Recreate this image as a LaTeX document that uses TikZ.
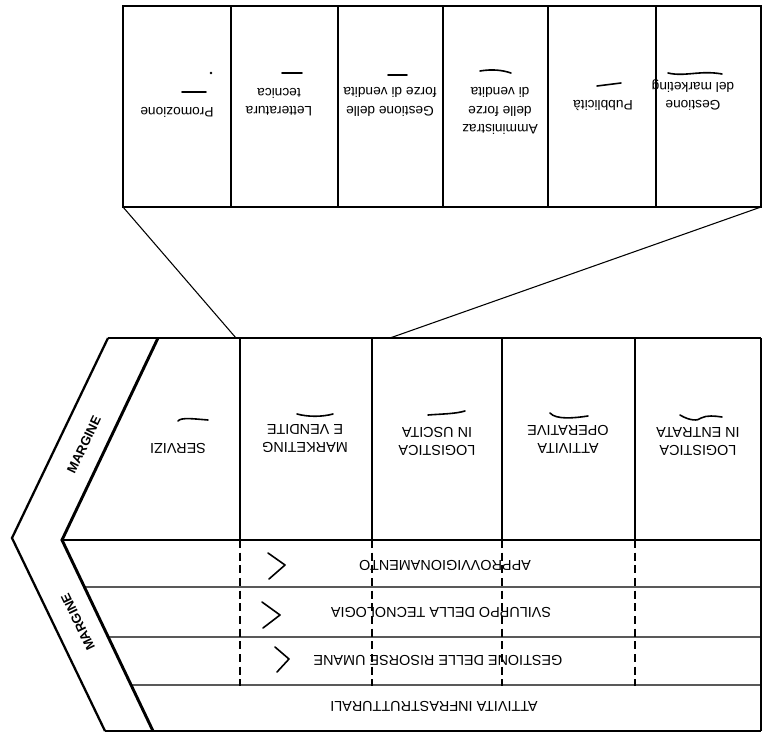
\documentclass[tikz,border=0pt]{standalone}
\usepackage{fontspec}
\setmainfont{Liberation Sans}
\usetikzlibrary{calc}

\begin{document}
\begin{tikzpicture}[x=0.75pt,y=0.75pt,yscale=-1,xscale=1,
  heavyline/.style={line width=2.2pt},
  chevline/.style={line width=1.7pt,line join=miter},
  colline/.style={line width=0.8pt},
  rowline/.style={line width=1pt},
  boxline/.style={line width=1.1pt},
  linkline/.style={line width=0.8pt},
  cutline/.style={line width=0.8pt,dash pattern=on 6pt off 3.5pt},
  pen/.style={line width=1.2pt,line cap=round,line join=round},
  actlabel/.style={font=\fontsize{10.8}{13.5}\selectfont,rotate=180,align=center,inner sep=0pt},
  sublabel/.style={font=\fontsize{10.3}{14}\selectfont,rotate=180,align=center,inner sep=0pt},
  marglabel/.style={font=\bfseries\fontsize{9.8}{12}\selectfont,inner sep=0pt}]
\useasboundingbox (0,0) rectangle (763,735);

%Corners of the value chain
\coordinate (otop) at (108,338);
\coordinate (itop) at (158,338);
\coordinate (otip) at (12,538);
\coordinate (itip) at (62,540);
\coordinate (obot) at (105,731);
\coordinate (ibot) at (153,731);
\coordinate (tr) at (761,338);
\coordinate (mr) at (761,540);
\coordinate (br) at (761,731);

%Chevron (margine)
\draw [chevline] (otop) -- (otip) -- (obot) ;
\draw [heavyline] (itop) -- (itip) -- (ibot) ;
%Outer edges
\draw [heavyline] (otop) -- (tr) ;
\draw [heavyline] (obot) -- (br) ;
\draw [heavyline] (itip) -- (mr) ;
\draw [colline] (tr) -- (br) ;

%Rows of the support activities
\foreach \y/\t in {587/0.246,637/0.508,685/0.759}
  \draw [rowline] ($(itip)!\t!(ibot)$) -- (761,\y) ;

%Columns of the primary activities
\foreach \x in {240,372,502,635}{
  \draw [colline] (\x,338) -- (\x,540) ;
  \draw [cutline] (\x,540) -- (\x,686) ;
}

%Detail box (marketing e vendite)
\coordinate (zl) at (123,207);
\coordinate (zr) at (761,207);
\draw [boxline] (123,6) rectangle (zr) ;
\foreach \x in {231,338,443,548,656}
  \draw [colline] (\x,6) -- (\x,207) ;
\coordinate (ml) at (236,338);
\coordinate (mk) at (390,338);
\draw [linkline] (zl) -- (ml) ;
\draw [linkline] (zr) -- (mk) ;

% Text Node
\node [sublabel] (promo) at (177,112) {Promozione};
\node [sublabel] (lett) at (279,102) {Letteratura\\tecnica};
\node [sublabel] (forze) at (390,102) {Gestione delle\\forze di vendita};
\node [sublabel] (ammin) at (500,111) {Amministraz\\delle forze\\di vendita};
\node [sublabel] (pubbl) at (603,105) {Pubblicità};
\node [sublabel] (gmkt) at (693,95) {Gestione\\del marketing};

% Text Node
\node [actlabel] (serv) at (178,448) {SERVIZI};
\node [actlabel] (mkt) at (305,439) {MARKETING\\E VENDITE};
\node [actlabel] (logu) at (437,441) {LOGISTICA\\IN USCITA};
\node [actlabel] (oper) at (568,439) {ATTIVITA\\OPERATIVE};
\node [actlabel] (loge) at (698,442) {LOGISTICA\\IN ENTRATA};

% Text Node
\node [actlabel] (appr) at (445,565) {APPROVVIGIONAMENTO};
\node [actlabel] (svil) at (441,612) {SVILUPPO DELLA TECNOLOGIA};
\node [actlabel] (gest) at (438,660) {GESTIONE DELLE RISORSE UMANE};
\node [actlabel] (infr) at (434,706) {ATTIVITA INFRASTRUTTURALI};

% Text Node
\node [marglabel,rotate=64.4] (margu) at (84,445) {MARGINE};
\node [marglabel,rotate=115.7] (margl) at (78,622) {MARGINE};

%Pen marks
\draw [pen] (182,92) -- (206,92) ;
\fill (211,73) circle (1.3) ;
\draw [pen] (282,73) -- (302,73) ;
\draw [pen] (388,75) -- (407,75) ;
\draw [pen] (480,71) .. controls (492,69) and (502,70) .. (511,73) ;
\draw [pen] (597,86) -- (621,83) ;
\draw [pen] (668,73) .. controls (685,77) and (700,70) .. (722,74) ;
\draw [pen] (178,421) .. controls (181,417) and (195,419) .. (208,420) ;
\draw [pen] (297,414) .. controls (308,417) and (322,417) .. (333,414) ;
\draw [pen] (428,415) .. controls (440,414) and (455,414) .. (465,411) ;
\draw [pen] (550,413) .. controls (556,420) and (575,418) .. (588,416) ;
\draw [pen] (680,415) .. controls (690,421) and (698,421) .. (701,418) .. controls (707,415) and (715,416) .. (722,417) ;
\draw [pen] (268,553) -- (285,565) -- (269,579) ;
\draw [pen] (262,602) -- (280,615) -- (263,628) ;
\draw [pen] (275,647) -- (289,659) -- (277,672) ;

\end{tikzpicture}
\end{document}
